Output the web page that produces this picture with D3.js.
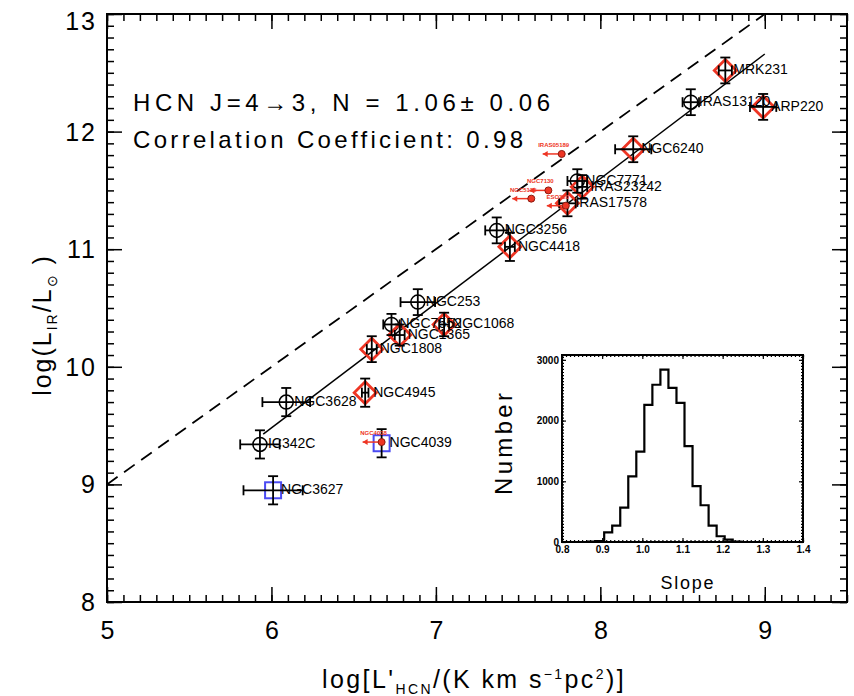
<!DOCTYPE html>
<html lang="en">
<head>
<meta charset="utf-8">
<title>HCN 4-3 vs L_IR</title>
<script src="https://d3js.org/d3.v7.min.js"></script>
<style>
  body { margin: 0; background: #fff; }
  svg { font-family: "Liberation Sans", Arial, Helvetica, sans-serif; }
  .tick line { stroke: #000; stroke-width: 1.5; }
  .lbl { font-size: 14px; fill: #000; }
</style>
</head>
<body>
<div id="chart"></div>
<script>
// galaxies: log L'HCN, log L_IR and errors
var names  = ["MRK231","IRAS13120","ARP220","NGC6240","NGC7771","IRAS23242","IRAS17578","NGC3256","NGC4418",
              "NGC253","NGC1068","NGC7552","NGC1365","NGC1808","NGC4945","NGC3628","IC342C","NGC4039","NGC3627"];
var logHCN = [8.76, 8.55, 8.99, 8.20, 7.86, 7.89, 7.80, 7.37, 7.45, 6.89, 7.05, 6.73, 6.78, 6.61, 6.57, 6.09, 5.93, 6.67, 6.01];
var logLIR = [12.52, 12.25, 12.21, 11.85, 11.58, 11.53, 11.39, 11.16, 11.02, 10.55, 10.36, 10.36, 10.27, 10.15, 9.78, 9.70, 9.34, 9.35, 8.95];
var errX   = [0.04, 0.05, 0.08, 0.11, 0.06, 0.03, 0.05, 0.07, 0.03, 0.105, 0.03, 0.05, 0.03, 0.03, 0.02, 0.145, 0.12, 0.0, 0.18];
var errY   = [0.11, 0.11, 0.11, 0.11, 0.1, 0.1, 0.11, 0.11, 0.12, 0.11, 0.1, 0.09, 0.09, 0.11, 0.12, 0.12, 0.12, 0.12, 0.12];
var kinds  = ["diamond","circle","diamond","diamond","circle","diamond","diamond","circle","diamond",
              "circle","diamond","circle","diamond","diamond","diamond","circle","circle","square","square"];

// upper limits (red, arrows to the left)
var limNames = ["IRAS05189","NGC7130","NGC5135","ESO320","NGC4038"];
var limX = [7.765, 7.684, 7.58, 7.79, 6.67];
var limY = [11.81, 11.50, 11.43, 11.37, 9.36];

// fit and 1:1 reference
var fitSlope = 1.06, fitIntercept = 3.12, fitRange = [5.95, 9.0];
var refOffset = 4.0, refRange = [5.0, 9.0];

// inset histogram of slopes
var slopeBinStart = [0.805,0.825,0.845,0.865,0.885,0.905,0.925,0.945,0.965,0.985,1.005,1.025,1.045,1.065,1.085,
                     1.105,1.125,1.145,1.165,1.185,1.205,1.225,1.245,1.265,1.285,1.305,1.325,1.345,1.365,1.385];
var slopeCounts   = [0,0,0,5,15,160,270,565,1080,1490,2260,2590,2840,2540,2290,
                     1580,920,605,270,95,40,5,0,0,0,0,0,0,0,0];

var W = 854, H = 696;
var svg = d3.select("#chart").append("svg").attr("width", W).attr("height", H);

var x = d3.scaleLinear().domain([5, 9.5]).range([107, 847]);
var y = d3.scaleLinear().domain([8, 13]).range([602, 14]);

var red = "#ee3524", blue = "#4b4bf2";

// ticks on all sides, inward
function ticks(axisFn, scale, vals, len, pos, labels, pad) {
  var a = axisFn(scale).tickValues(vals).tickSizeInner(-len).tickSizeOuter(0)
    .tickPadding(pad || 0).tickFormat(labels ? d3.format("d") : "");
  var g = svg.append("g").attr("transform", pos).call(a);
  g.select(".domain").remove();
  return g;
}
var xMinor = d3.range(50, 96).map(function(d){ return d / 10; });
var yMinor = d3.range(80, 131).map(function(d){ return d / 10; });
ticks(d3.axisBottom, x, xMinor, 7, "translate(0,602)");
ticks(d3.axisTop, x, xMinor, 7, "translate(0,14)");
ticks(d3.axisLeft, y, yMinor, 7, "translate(107,0)");
ticks(d3.axisRight, y, yMinor, 7, "translate(847,0)");
var xb = ticks(d3.axisBottom, x, [5,6,7,8,9], 15, "translate(0,602)", true, 19);
ticks(d3.axisTop, x, [5,6,7,8,9], 15, "translate(0,14)");
var yl = ticks(d3.axisLeft, y, [8,9,10,11,12,13], 15, "translate(107,0)", true, 10);
ticks(d3.axisRight, y, [8,9,10,11,12,13], 15, "translate(847,0)");
xb.selectAll("text").style("font-size", "25px").attr("fill", "#000");
yl.selectAll("text").style("font-size", "25px").style("letter-spacing", "2px").attr("fill", "#000")
  .attr("dy", function(d){ return d === 13 ? "0.62em" : "0.34em"; });

svg.append("rect").attr("x", 107).attr("y", 14).attr("width", 740).attr("height", 588)
  .attr("fill", "none").attr("stroke", "#000").attr("stroke-width", 2);

// reference and fit lines
svg.append("line")
  .attr("x1", x(refRange[0])).attr("y1", y(refRange[0] + refOffset))
  .attr("x2", x(refRange[1])).attr("y2", y(refRange[1] + refOffset))
  .attr("stroke", "#000").attr("stroke-width", 1.8).attr("stroke-dasharray", "13,8");
svg.append("line")
  .attr("x1", x(fitRange[0])).attr("y1", y(fitIntercept + fitSlope * fitRange[0]))
  .attr("x2", x(fitRange[1])).attr("y2", y(fitIntercept + fitSlope * fitRange[1]))
  .attr("stroke", "#000").attr("stroke-width", 1.5);

var pts = names.map(function(n, i) {
  return {name: n, x: logHCN[i], y: logLIR[i], ex: errX[i], ey: errY[i], kind: kinds[i]};
});

// markers
var mk = svg.append("g");
pts.forEach(function(d) {
  var cx = x(d.x), cy = y(d.y);
  if (d.kind === "diamond") {
    mk.append("path").attr("d", "M" + (cx - 11) + "," + cy + "L" + cx + "," + (cy - 11) + "L" + (cx + 11) + "," + cy + "L" + cx + "," + (cy + 11) + "Z")
      .attr("fill", "none").attr("stroke", red).attr("stroke-width", 2.8);
  } else if (d.kind === "circle") {
    mk.append("circle").attr("cx", cx).attr("cy", cy).attr("r", 7)
      .attr("fill", "none").attr("stroke", "#000").attr("stroke-width", 1.5);
  } else {
    mk.append("rect").attr("x", cx - 8).attr("y", cy - 8).attr("width", 16).attr("height", 16)
      .attr("fill", "none").attr("stroke", blue).attr("stroke-width", 2);
  }
});

// error bars
var eb = svg.append("g").attr("stroke", "#000").attr("stroke-width", 1.8);
pts.forEach(function(d) {
  var cx = x(d.x), cy = y(d.y);
  var y0 = y(d.y - d.ey), y1 = y(d.y + d.ey);
  eb.append("line").attr("x1", cx).attr("x2", cx).attr("y1", y0).attr("y2", y1);
  eb.append("line").attr("x1", cx - 5).attr("x2", cx + 5).attr("y1", y0).attr("y2", y0);
  eb.append("line").attr("x1", cx - 5).attr("x2", cx + 5).attr("y1", y1).attr("y2", y1);
  var x0 = x(d.x - d.ex), x1 = x(d.x + d.ex);
  if (d.ex > 0) {
    eb.append("line").attr("x1", x0).attr("x2", x1).attr("y1", cy).attr("y2", cy);
    eb.append("line").attr("x1", x0).attr("x2", x0).attr("y1", cy - 5).attr("y2", cy + 5);
    eb.append("line").attr("x1", x1).attr("x2", x1).attr("y1", cy - 5).attr("y2", cy + 5);
  }
});

// upper limits
var ul = svg.append("g");
limNames.forEach(function(n, i) {
  var cx = x(limX[i]), cy = y(limY[i]);
  ul.append("line").attr("x1", cx - 3).attr("x2", cx - 19).attr("y1", cy).attr("y2", cy)
    .attr("stroke", red).attr("stroke-width", 1.5);
  ul.append("path").attr("d", "M" + (cx - 19) + "," + cy + "l5,-3l0,6z").attr("fill", red);
  ul.append("circle").attr("cx", cx).attr("cy", cy).attr("r", 3.5)
    .attr("fill", red).attr("stroke", "#8a1a10").attr("stroke-width", 1);
  ul.append("text").attr("x", cx - 8).attr("y", cy - 7).attr("text-anchor", "middle")
    .style("font-size", "6px").style("font-weight", "bold").attr("fill", red).text(n);
});

// labels
svg.append("g").selectAll("text").data(pts).join("text")
  .attr("class", "lbl")
  .attr("x", function(d){ return x(d.x) + 8; })
  .attr("y", function(d){ return y(d.y) - 1; })
  .attr("dy", "0.35em")
  .text(function(d){ return d.name; });

// annotation
svg.append("text").attr("x", 133).attr("y", 111).style("font-size", "24px")
  .attr("textLength", 417).attr("lengthAdjust", "spacing").text("HCN J=4\u21923, N = 1.06\u00b1 0.06");
svg.append("text").attr("x", 133).attr("y", 148).style("font-size", "24px")
  .attr("textLength", 390).attr("lengthAdjust", "spacing").text("Correlation Coefficient: 0.98");

// axis titles
var xt = svg.append("text").attr("x", 322).attr("y", 688).style("font-size", "25px").style("letter-spacing", "2.4px");
xt.append("tspan").text("log[L'");
xt.append("tspan").attr("dy", 6).style("font-size", "14px").text("HCN");
xt.append("tspan").attr("dy", -6).text("/(K km s");
xt.append("tspan").attr("dy", -9).style("font-size", "14px").text("\u22121");
xt.append("tspan").attr("dy", 9).text("pc");
xt.append("tspan").attr("dy", -9).style("font-size", "14px").text("2");
xt.append("tspan").attr("dy", 9).text(")]");

var yt = svg.append("text").attr("transform", "translate(51,325) rotate(-90)")
  .attr("text-anchor", "middle").style("font-size", "25px").style("letter-spacing", "2px");
yt.append("tspan").text("log(L");
yt.append("tspan").attr("dy", 6).style("font-size", "14px").text("IR");
yt.append("tspan").attr("dy", -6).text("/L");
yt.append("tspan").attr("dy", 6).style("font-size", "14px").text("\u2299");
yt.append("tspan").attr("dy", -6).text(" )");

// inset
var ix = d3.scaleLinear().domain([0.8, 1.4]).range([562, 803]);
var iy = d3.scaleLinear().domain([0, 3080]).range([542, 355]);
svg.append("rect").attr("x", 562).attr("y", 355).attr("width", 241).attr("height", 187).attr("fill", "#fff");

function iticks(axisFn, scale, vals, len, pos, fmt, pad) {
  var a = axisFn(scale).tickValues(vals).tickSizeInner(-len).tickSizeOuter(0)
    .tickPadding(pad || 0).tickFormat(fmt || "");
  var g = svg.append("g").attr("transform", pos).call(a);
  g.select(".domain").remove();
  g.selectAll("line").style("stroke-width", 1.2);
  return g;
}
var ixMinor = d3.range(80, 141).map(function(d){ return d / 100; });
var iyMinor = d3.range(0, 3081, 50);
iticks(d3.axisBottom, ix, ixMinor, 2, "translate(0,542)");
iticks(d3.axisTop, ix, ixMinor, 2, "translate(0,355)");
iticks(d3.axisLeft, iy, iyMinor, 2, "translate(562,0)");
iticks(d3.axisRight, iy, iyMinor, 2, "translate(803,0)");
var ixb = iticks(d3.axisBottom, ix, [0.8,0.9,1.0,1.1,1.2,1.3,1.4], 4, "translate(0,542)", d3.format(".1f"), 4);
iticks(d3.axisTop, ix, [0.8,0.9,1.0,1.1,1.2,1.3,1.4], 4, "translate(0,355)");
var iyl = iticks(d3.axisLeft, iy, [0,1000,2000,3000], 4, "translate(562,0)", d3.format("d"), 3);
iticks(d3.axisRight, iy, [0,1000,2000,3000], 4, "translate(803,0)");
ixb.selectAll("text").style("font-size", "10px").style("font-weight", "bold").attr("fill", "#000");
iyl.selectAll("text").style("font-size", "10px").style("font-weight", "bold").attr("fill", "#000");

var steps = [{s: 0.8, c: 0}];
slopeBinStart.forEach(function(s, i){ steps.push({s: s, c: slopeCounts[i]}); });
steps.push({s: 1.4, c: 0});
svg.append("path").datum(steps)
  .attr("d", d3.line().x(function(d){ return ix(d.s); }).y(function(d){ return iy(d.c); }).curve(d3.curveStepAfter))
  .attr("fill", "none").attr("stroke", "#000").attr("stroke-width", 2.2);

svg.append("rect").attr("x", 562).attr("y", 355).attr("width", 241).attr("height", 187)
  .attr("fill", "none").attr("stroke", "#000").attr("stroke-width", 2);

svg.append("text").attr("x", 687).attr("y", 589).attr("text-anchor", "middle")
  .style("font-size", "18px").attr("textLength", 53).attr("lengthAdjust", "spacing").text("Slope");
svg.append("text").attr("transform", "translate(512,444) rotate(-90)").attr("text-anchor", "middle")
  .style("font-size", "24px").attr("textLength", 102).attr("lengthAdjust", "spacing").text("Number");
</script>
</body>
</html>
